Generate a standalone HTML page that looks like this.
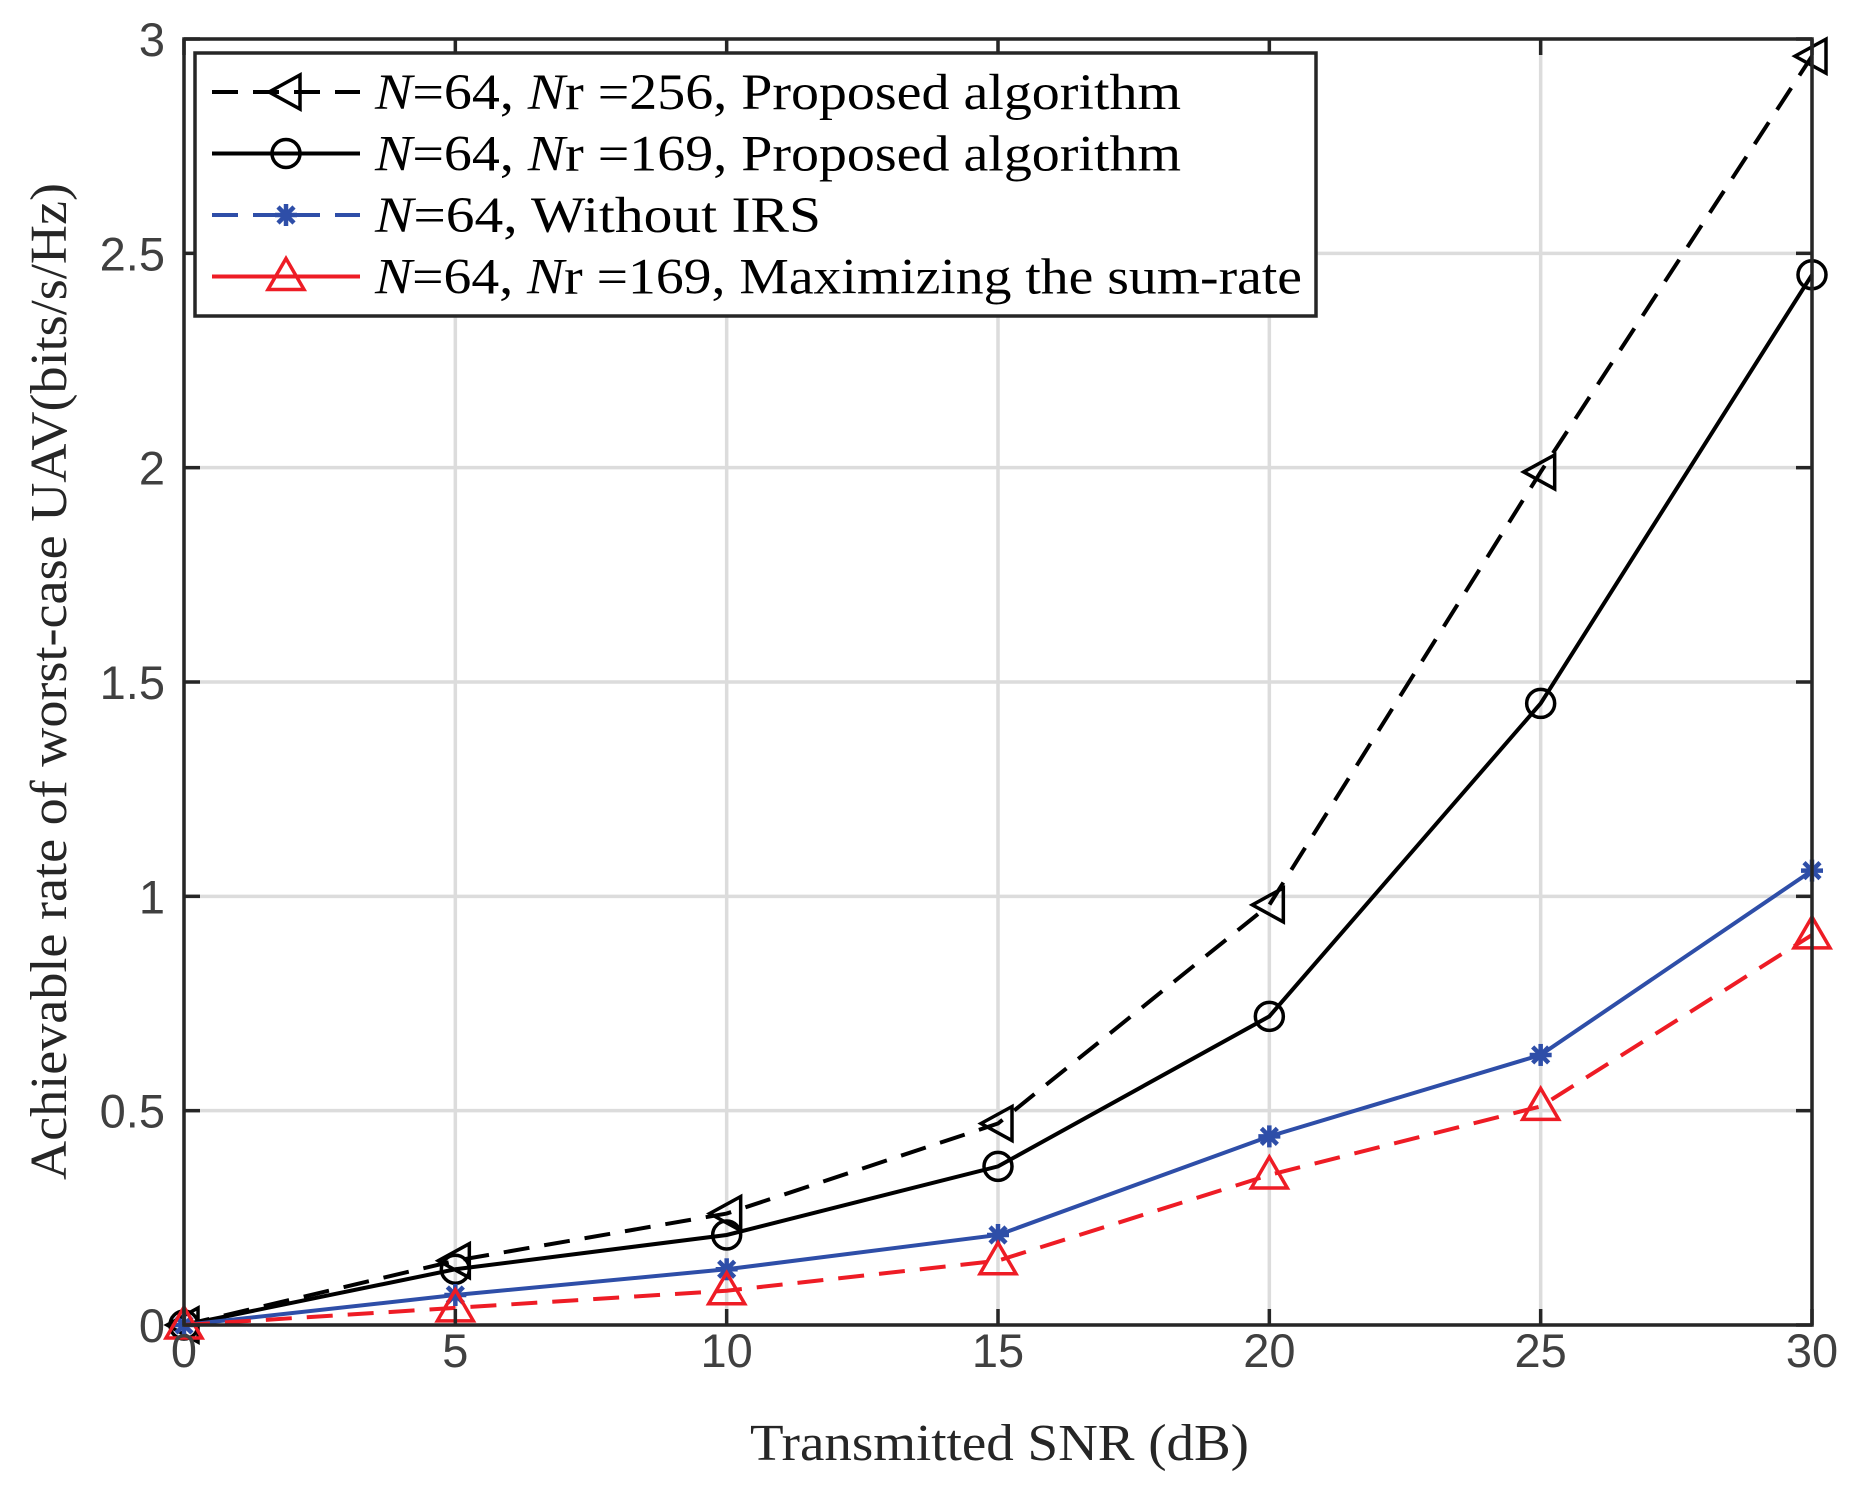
<!DOCTYPE html>
<html><head><meta charset="utf-8"><style>
html,body{margin:0;padding:0;background:#fff;}
svg text{font-family:"Liberation Sans",sans-serif;}
</style></head><body>
<svg id="chart" width="1851" height="1484" xmlns="http://www.w3.org/2000/svg">
<rect width="1851" height="1484" fill="#fff"/>
<g id="grid"></g>
<g id="series"></g>
<rect x="184" y="39" width="1628" height="1286" fill="none" stroke="#262626" stroke-width="3.5"/>
<g id="ticks"></g>
<text x="750" y="1460" font-size="52" textLength="499" lengthAdjust="spacingAndGlyphs" fill="#262626" style="font-family:'Liberation Serif',serif">Transmitted SNR (dB)</text>
<text x="-498" y="0" font-size="52" textLength="997" lengthAdjust="spacingAndGlyphs" fill="#262626" transform="translate(66,682) rotate(-90)" style="font-family:'Liberation Serif',serif">Achievable rate of worst-case UAV(bits/s/Hz)</text>
<g id="legend">
<rect x="195" y="53" width="1121" height="263" fill="#fff" stroke="#262626" stroke-width="3.5"/>
</g>
</svg>
<script>
const snr=[0,5,10,15,20,25,30];
const nr256=[0,0.15,0.26,0.47,0.98,1.99,2.96];
const nr169=[0,0.13,0.21,0.37,0.72,1.45,2.45];
const noIrs=[0,0.07,0.13,0.21,0.44,0.63,1.06];
const sumRate=[0,0.04,0.08,0.15,0.35,0.51,0.91];
const xTicks=[0,5,10,15,20,25,30];
const yTicks=[0,0.5,1,1.5,2,2.5,3];
const legendLabels=["=64, ","=64, ","=64, Without IRS","=64, "];
const NS="http://www.w3.org/2000/svg";
const X0=184,X1=1812,Y0=1325,Y1=39;
const xs=v=>X0+(v-0)/30*(X1-X0);
const ys=v=>Y0-(v-0)/3*(Y0-Y1);
function mk(t,a,p){const e=document.createElementNS(NS,t);for(const k in a)e.setAttribute(k,a[k]);p.appendChild(e);return e;}
const grid=document.getElementById('grid'),ticks=document.getElementById('ticks'),ser=document.getElementById('series');
xTicks.forEach(v=>{const x=xs(v);
 const l=mk('line',{x1:x,x2:x,y1:Y1,y2:Y0,stroke:'#dcdcdc','stroke-width':3.5},grid);
 
 
 mk('line',{x1:x,x2:x,y1:Y0,y2:Y0-16,stroke:'#262626','stroke-width':3.5},ticks);
 mk('line',{x1:x,x2:x,y1:Y1,y2:Y1+16,stroke:'#262626','stroke-width':3.5},ticks);
 const t=mk('text',{x:x,y:1367,'font-size':47,'text-anchor':'middle',fill:'#404040'},ticks);t.textContent=v;
 
 
});
yTicks.forEach(v=>{const y=ys(v);
 const l=mk('line',{x1:X0,x2:X1,y1:y,y2:y,stroke:'#dcdcdc','stroke-width':3.5},grid);
 
 
 mk('line',{x1:X0,x2:X0+16,y1:y,y2:y,stroke:'#262626','stroke-width':3.5},ticks);
 mk('line',{x1:X1,x2:X1-16,y1:y,y2:y,stroke:'#262626','stroke-width':3.5},ticks);
 const t=mk('text',{x:165,y:y+17,'font-size':47,'text-anchor':'end',fill:'#404040'},ticks);t.textContent=v;
 
 
});
function marker(type,x,y,col,p){
 const a={fill:'none',stroke:col,'stroke-width':3.5};
 if(type==='tl')return mk('polygon',Object.assign({points:`${x-17},${y} ${x+14},${y-17} ${x+14},${y+17}`},a),p);
 if(type==='o')return mk('circle',Object.assign({cx:x,cy:y,r:14},a),p);
 if(type==='tu')return mk('polygon',Object.assign({points:`${x},${y-18} ${x+18},${y+13} ${x-18},${y+13}`},a),p);
 if(type==='*'){const g=mk('g',{stroke:col,'stroke-width':4.5},p);
  mk('line',{x1:x-11,x2:x+11,y1:y,y2:y},g);mk('line',{x1:x,x2:x,y1:y-11,y2:y+11},g);
  mk('line',{x1:x-8,x2:x+8,y1:y-8,y2:y+8},g);mk('line',{x1:x-8,x2:x+8,y1:y+8,y2:y-8},g);return g;}
}
const defs=[
 {d:nr256,c:'#000',dash:'26,15',m:'tl',name:'series-nr256'},
 {d:nr169,c:'#000',dash:'',m:'o',name:'series-nr169'},
 {d:noIrs,c:'#2e4ea8',dash:'',m:'*',name:'series-without-irs'},
 {d:sumRate,c:'#ee1c25',dash:'26,15',m:'tu',name:'series-sum-rate'}];
defs.forEach(s=>{
 const g=mk('g',{},ser);
 
 
 mk('polyline',{points:snr.map((v,i)=>xs(v)+','+ys(s.d[i])).join(' '),fill:'none',stroke:s.c,'stroke-width':4,'stroke-dasharray':s.dash},g);
 snr.forEach((v,i)=>{const m=marker(s.m,xs(v),ys(s.d[i]),s.c,g);
  
  });
});
const lg=document.getElementById('legend');
const legendDefs=[
 {c:'#000',dash:'26,15',m:'tl',nr:'256',rest:', Proposed algorithm',w:806},
 {c:'#000',dash:'',m:'o',nr:'169',rest:', Proposed algorithm',w:806},
 {c:'#2e4ea8',dash:'26,15',m:'*',nr:null,rest:'',w:446},
 {c:'#ee1c25',dash:'',m:'tu',nr:'169',rest:', Maximizing the sum-rate',w:927}];
legendDefs.forEach((s,i)=>{
 const y=92+i*61.5;
 const g=mk('g',{},lg);
 
 
 mk('line',{x1:212,x2:360,y1:y,y2:y,stroke:s.c,'stroke-width':4,'stroke-dasharray':s.dash},g);
 marker(s.m,286,y,s.c,g);
 const t=mk('text',{x:375,y:y+17,'font-size':51,fill:'#000',textLength:s.w,lengthAdjust:'spacingAndGlyphs',style:"font-family:'Liberation Serif',serif"},g);
 let html='<tspan font-style="italic">N</tspan>'+legendLabels[i];
 if(s.nr)html+='<tspan font-style="italic">N</tspan>r =' +s.nr+s.rest;
 t.innerHTML=html;
});
</script>
</body></html>
